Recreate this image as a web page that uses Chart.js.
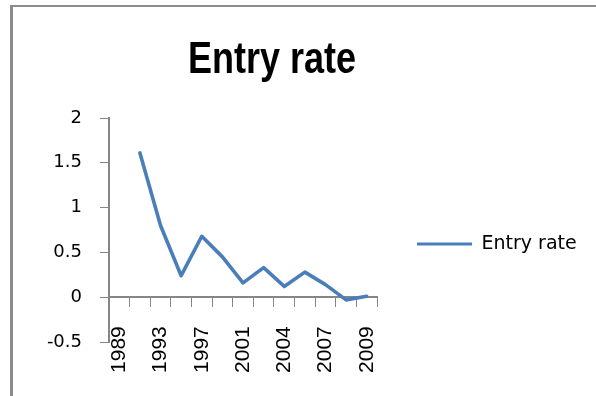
<!DOCTYPE html>
<html>
<head>
<meta charset="utf-8">
<title>Entry rate</title>
<script src="https://cdn.jsdelivr.net/npm/chart.js@4.4.1/dist/chart.umd.min.js"></script>
<style>
  html, body { margin: 0; padding: 0; background: #fff; overflow: hidden; }
  #frame { position: absolute; left: 10px; top: 5px; width: 600px; height: 400px;
           border-left: 3px solid #8c8c8c; border-top: 2px solid #8c8c8c; }
  #entryChart { position: absolute; left: 0; top: 0; }
</style>
</head>
<body>
<div id="frame"></div>
<canvas id="entryChart" width="596" height="396"></canvas>
<script>
const titleText = 'Entry rate';
const years = ['1989', '1991', '1993', '1995', '1997', '1999', '2001', '2002', '2004', '2005', '2007', '2008', '2009'];
const entryRate = [null, 1.61, 0.80, 0.24, 0.68, 0.45, 0.16, 0.33, 0.12, 0.28, 0.14, -0.03, 0.01];
const yTickValues = [-0.5, 0, 0.5, 1, 1.5, 2];

const lineColor = '#4a7ebb';
const axisColor = '#868686';

// big chart heading, a narrow bold face squeezed from Liberation Sans
const chartTitle = {
    id: 'chartTitle',
    afterDraw(chart) {
        const ctx = chart.ctx;
        ctx.save();
        ctx.font = 'bold 45px "Liberation Sans", sans-serif';
        ctx.fillStyle = '#000';
        ctx.textAlign = 'center';
        ctx.textBaseline = 'alphabetic';
        ctx.translate(272, 73);
        ctx.scale(0.8, 1);
        ctx.fillText(titleText, 0, 0);
        ctx.restore();
    }
};

// the layout caps a side legend at a quarter of the width, so widen its box
// after layout or the label gets clipped
const wideLegend = {
    id: 'wideLegend',
    afterLayout(chart) {
        const legend = chart.legend;
        legend.right = chart.width - 6;
        legend.width = legend.right - legend.left;
    }
};

new Chart(document.getElementById('entryChart').getContext('2d'), {
    type: 'line',
    data: {
        labels: years,
        datasets: [{
            label: 'Entry rate',
            data: entryRate,
            borderColor: lineColor,
            backgroundColor: lineColor,
            borderWidth: 3.6,
            borderJoinStyle: 'round',
            borderCapStyle: 'round',
            pointRadius: 0,
            tension: 0
        }]
    },
    options: {
        responsive: false,
        animation: false,
        layout: {
            padding: { top: 118, bottom: 54, left: 0, right: 93.3 }
        },
        scales: {
            x: {
                type: 'category',
                position: { y: 0 },
                offset: true,
                grid: {
                    offset: true,
                    drawOnChartArea: false,
                    drawTicks: true,
                    tickLength: 9,
                    color: axisColor
                },
                border: { color: axisColor, width: 2 },
                ticks: {
                    autoSkip: false,
                    minRotation: 90,
                    maxRotation: 90,
                    padding: 20,
                    color: '#000',
                    font: { family: 'Liberation Sans', size: 21 },
                    // every other year is labelled
                    callback: (value, index) => index % 2 === 0 ? years[index] : ''
                }
            },
            y: {
                min: -0.5,
                max: 2,
                afterBuildTicks: scale => {
                    scale.ticks = yTickValues.map(v => ({ value: v }));
                },
                afterFit: scale => {
                    scale.width = 109;
                },
                grid: {
                    drawOnChartArea: false,
                    drawTicks: true,
                    tickLength: 9,
                    color: axisColor
                },
                border: { color: axisColor, width: 2 },
                ticks: {
                    padding: 18,
                    color: '#000',
                    font: { family: 'DejaVu Sans', size: 18 },
                    callback: value => String(value)
                }
            }
        },
        plugins: {
            title: { display: false },
            tooltip: { enabled: false },
            legend: {
                position: 'right',
                // empty title just pushes the single entry down a little
                title: { display: true, text: '', font: { size: 10 }, padding: { top: 0, bottom: 16 } },
                labels: {
                    boxWidth: 55,
                    boxHeight: 3,
                    padding: 40,
                    color: '#000',
                    font: { family: 'DejaVu Sans', size: 19 },
                    generateLabels: chart => Chart.defaults.plugins.legend.labels.generateLabels(chart)
                        .map(item => ({ ...item, lineWidth: 0, fillStyle: lineColor }))
                }
            }
        }
    },
    plugins: [chartTitle, wideLegend]
});
</script>
</body>
</html>
